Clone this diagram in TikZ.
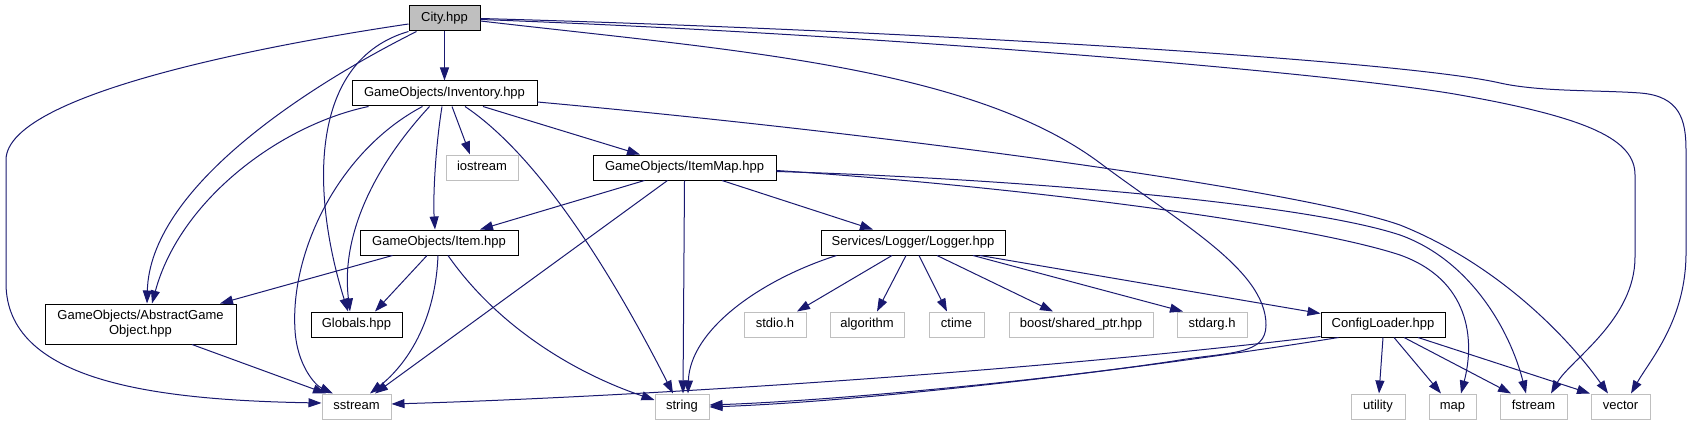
\documentclass[tikz,border=0pt]{standalone}
\usepackage{fontspec}
\setmainfont{Liberation Sans}
\usetikzlibrary{arrows.meta}
\definecolor{edgeblue}{RGB}{25,25,112}
\definecolor{extgray}{RGB}{191,191,191}
\definecolor{cityfill}{RGB}{191,191,191}
\newcommand{\lblfont}{\fontsize{13}{15}\selectfont}
\begin{document}
\begin{tikzpicture}[x=1pt,y=-1pt,
  box/.style={draw=black, fill=white, line width=1pt, minimum height=25pt, inner sep=0pt, font=\lblfont, text height=9.5pt, text depth=3pt},
  ext/.style={box, draw=extgray},
  edge/.style={draw=edgeblue, line width=1pt, -{Triangle[length=13pt,width=9pt]}}]
\useasboundingbox (0,0) rectangle (1691,425);
\fill[white] (0,0) rectangle (1691,425);
% nodes
\node[box, fill=cityfill, minimum width=71pt] (city) at (444.5,18.5) {City.hpp};
\node[box, minimum width=185pt] (inv) at (444.5,93.5) {GameObjects/Inventory.hpp};
\node[ext, minimum width=72pt] (iostream) at (482,167.5) {iostream};
\node[box, minimum width=183pt] (itemmap) at (684.5,167.5) {GameObjects/ItemMap.hpp};
\node[box, minimum width=158pt] (item) at (439,242.5) {GameObjects/Item.hpp};
\node[box, minimum width=184pt] (logger) at (913,242.5) {Services/Logger/Logger.hpp};
\node[box, minimum width=191pt, minimum height=40pt, align=center, text height=, text depth=] (ago) at (140.5,324) {GameObjects/AbstractGame\\Object.hpp};
\node[box, minimum width=91pt] (globals) at (356.5,324.5) {Globals.hpp};
\node[ext, minimum width=62pt] (stdio) at (775,324.5) {stdio.h};
\node[ext, minimum width=74pt] (algorithm) at (867,324.5) {algorithm};
\node[ext, minimum width=55pt] (ctime) at (956.5,324.5) {ctime};
\node[ext, minimum width=144pt] (boost) at (1081,324.5) {boost/shared\_ptr.hpp};
\node[ext, minimum width=70pt] (stdarg) at (1212,324.5) {stdarg.h};
\node[box, minimum width=124pt] (config) at (1383,324.5) {ConfigLoader.hpp};
\node[ext, minimum width=69pt] (sstream) at (356.5,406.5) {sstream};
\node[ext, minimum width=54pt] (string) at (682,406.5) {string};
\node[ext, minimum width=54pt] (utility) at (1378,406.5) {utility};
\node[ext, minimum width=47pt] (map) at (1452.5,406.5) {map};
\node[ext, minimum width=67pt] (fstream) at (1533.5,406.5) {fstream};
\node[ext, minimum width=59pt] (vector) at (1620.5,406.5) {vector};
% City edges
\draw[edge] (city.south) -- (inv.north);
\draw[edge] ([yshift=-5.5pt]city.west) .. controls (300,40) and (6,90) .. (6,160) -- (6,283) .. controls (6,380) and (150,400) .. ([yshift=3.5pt]sstream.west);
\draw[edge] ([xshift=8pt]city.south west) .. controls (300,90) and (150,190) .. ([xshift=6.5pt]ago.north);
\draw[edge] (city.south west) .. controls (310,60) and (310,190) .. ([xshift=-8.5pt]globals.north);
\draw[edge] ([yshift=-2.5pt]city.east) .. controls (730,50) and (970,66) .. (1100,163) .. controls (1180,223) and (1266,270) .. (1266,325) .. controls (1266,355) and (1230,352) .. (1180,360) .. controls (1080,376) and (850,400) .. ([yshift=1.5pt]string.east);
\draw[edge] ([yshift=-1pt]city.east) .. controls (900,35) and (1350,75) .. (1460,95) .. controls (1590,118) and (1635,140) .. (1635,175) -- (1635,257) .. controls (1635,320) and (1570,360) .. ([xshift=17.5pt]fstream.north);
\draw[edge] (city.east) .. controls (900,30) and (1400,60) .. (1500,83) .. controls (1540,92) and (1600,90) .. (1640,93) .. controls (1680,96) and (1686,120) .. (1686,150) -- (1686,253) .. controls (1686,320) and (1650,360) .. ([xshift=10.5pt]vector.north);
% Inventory edges
\draw[edge] ([xshift=17pt]inv.south west) .. controls (280,125) and (180,200) .. ([xshift=11.5pt]ago.north);
\draw[edge] ([xshift=71pt]inv.south west) .. controls (340,150) and (290,250) .. (295,330) .. controls (297,365) and (315,385) .. ([xshift=-23.5pt]sstream.north);
\draw[edge] ([xshift=78pt]inv.south west) .. controls (380,160) and (340,230) .. ([xshift=-6.5pt]globals.north);
\draw[edge] ([xshift=-2.5pt]inv.south) .. controls (435,150) and (433,200) .. ([xshift=-4pt]item.north);
\draw[edge] ([xshift=7.5pt]inv.south) -- ([xshift=-12pt]iostream.north);
\draw[edge] ([xshift=20.5pt]inv.south) .. controls (530,150) and (600,250) .. ([xshift=-9pt]string.north);
\draw[edge] ([xshift=38.5pt]inv.south) -- ([xshift=-44.5pt]itemmap.north);
\draw[edge] ([yshift=-8.5pt]inv.east) .. controls (900,135) and (1300,190) .. (1400,225) .. controls (1500,265) and (1570,340) .. ([xshift=-12.5pt]vector.north);
% ItemMap edges
\draw[edge] ([xshift=52pt]itemmap.south west) -- ([xshift=41pt]item.north);
\draw[edge] ([xshift=75pt]itemmap.south west) -- ([xshift=18.5pt]sstream.north);
\draw[edge] (itemmap.south) -- ([xshift=1pt]string.north);
\draw[edge] ([xshift=37.5pt]itemmap.south) -- ([xshift=-40pt]logger.north);
\draw[edge] ([yshift=-3pt]itemmap.east) .. controls (1000,185) and (1300,222) .. (1400,255) .. controls (1470,280) and (1475,340) .. ([xshift=8.5pt]map.north);
\draw[edge] ([yshift=-4pt]itemmap.east) .. controls (1000,178) and (1300,202) .. (1400,235) .. controls (1470,260) and (1510,330) .. ([xshift=-7.5pt]fstream.north);
% Item edges
\draw[edge] ([xshift=33pt]item.south west) -- ([xshift=79.5pt]ago.north);
\draw[edge] ([xshift=-12pt]item.south) -- ([xshift=18.5pt]globals.north);
\draw[edge] ([xshift=-1pt]item.south) .. controls (435,330) and (400,370) .. ([xshift=13.5pt]sstream.north);
\draw[edge] ([xshift=9pt]item.south) .. controls (500,330) and (580,375) .. ([yshift=6.5pt]string.west);
% AbstractGameObject edge
\draw[edge] ([xshift=51.5pt]ago.south) -- ([xshift=-30.5pt]sstream.north);
% Logger edges
\draw[edge] ([xshift=16pt]logger.south west) .. controls (760,280) and (690,330) .. ([xshift=6pt]string.north);
\draw[edge] ([xshift=-21pt]logger.south) -- ([xshift=22pt]stdio.north);
\draw[edge] ([xshift=-7pt]logger.south) -- ([xshift=10pt]algorithm.north);
\draw[edge] ([xshift=6pt]logger.south) -- ([xshift=-9.5pt]ctime.north);
\draw[edge] ([xshift=24pt]logger.south) -- ([xshift=-28pt]boost.north);
\draw[edge] ([xshift=60pt]logger.south) -- ([xshift=-29pt]stdarg.north);
\draw[edge] ([xshift=67pt]logger.south) -- ([yshift=-2pt]config.north west);
% ConfigLoader edges
\draw[edge] ([yshift=1pt]config.south west) .. controls (1000,375) and (600,398) .. ([yshift=2.5pt]sstream.east);
\draw[edge] ([xshift=18pt]config.south west) .. controls (1200,360) and (900,400) .. ([yshift=-0.5pt]string.east);
\draw[edge] (config.south) -- ([xshift=1pt]utility.north);
\draw[edge] ([xshift=11pt]config.south) -- ([xshift=-11.5pt]map.north);
\draw[edge] ([xshift=21pt]config.south) -- ([xshift=-22.5pt]fstream.north);
\draw[edge] ([xshift=35pt]config.south) -- ([xshift=-30.5pt]vector.north);
\end{tikzpicture}
\end{document}
